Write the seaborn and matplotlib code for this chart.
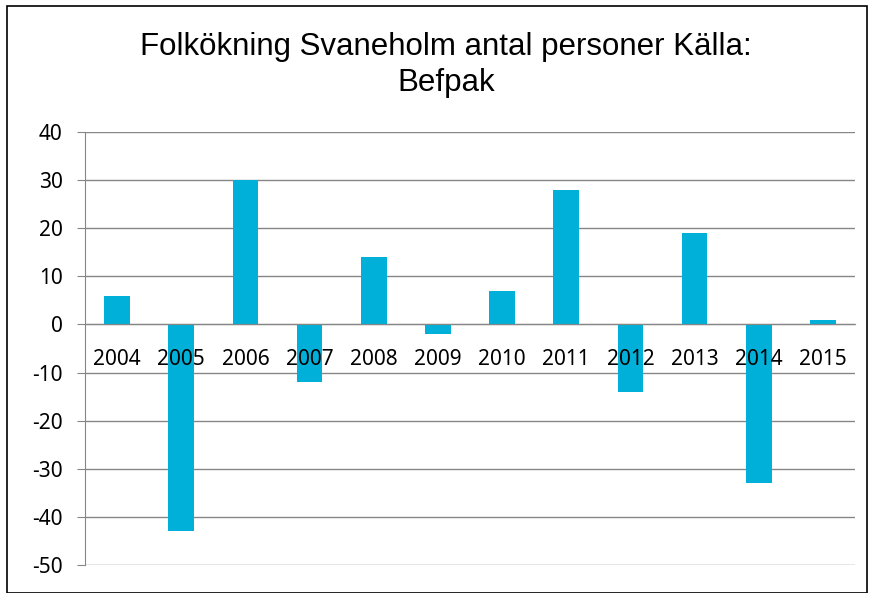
import numpy as np
import pandas as pd
import seaborn as sns
import matplotlib.pyplot as plt
from matplotlib.patches import Rectangle

# data
years = ["2004", "2005", "2006", "2007", "2008", "2009",
         "2010", "2011", "2012", "2013", "2014", "2015"]
growth = [6, -43, 30, -12, 14, -2, 7, 28, -14, 19, -33, 1]

df = pd.DataFrame({"year": years, "growth": growth})

sns.set_style("white")
plt.rcParams['font.family'] = ['Noto Sans', 'DejaVu Sans']
plt.rcParams['axes.unicode_minus'] = False

fig = plt.figure(figsize=(8.74, 5.93), dpi=100)
ax = fig.add_axes([85 / 874, 1 - 565 / 593, 770 / 874, 433 / 593])

sns.barplot(data=df, x="year", y="growth", color="#00B0D8",
            saturation=1, width=0.4, linewidth=0, edgecolor="none", ax=ax)

gray = "#868686"
ax.set_ylim(-50, 40)
ax.set_xlim(-0.5, len(years) - 0.5)
ax.set_yticks(np.arange(-50, 41, 10))
ax.yaxis.grid(True, color=gray, lw=1)
ax.set_axisbelow(True)
# year labels sit on top of the bars
ax.xaxis.set_zorder(5)

for s in ["top", "right"]:
    ax.spines[s].set_visible(False)
ax.spines["left"].set_color(gray)
ax.spines["bottom"].set_color(gray)
ax.spines["bottom"].set_position(("data", 0))

# boundary ticks on the zero line
ax.set_xticks(np.arange(-0.5, len(years)), minor=True)
ax.tick_params(axis="x", which="minor", length=6, color=gray, direction="out")
ax.tick_params(axis="x", which="major", length=0, pad=18, labelsize=15, labelcolor="black")
ax.tick_params(axis="y", length=6, color=gray, direction="out", pad=10, labelsize=15,
               labelcolor="black", left=True)

ax.set_xlabel("")
ax.set_ylabel("")

fig.text(446 / 874, 1 - 65 / 593, "Folkökning Svaneholm antal personer Källa:\nBefpak",
         ha="center", va="center", fontsize=22.5, family="Liberation Sans",
         color="black", linespacing=1.3)

# outer chart frame
fig.patches.append(Rectangle((7 / 874, 0), 860 / 874, 1 - 6 / 593,
                             transform=fig.transFigure, fill=False,
                             edgecolor="black", lw=1.2))

fig.savefig("out.png", dpi=100)
